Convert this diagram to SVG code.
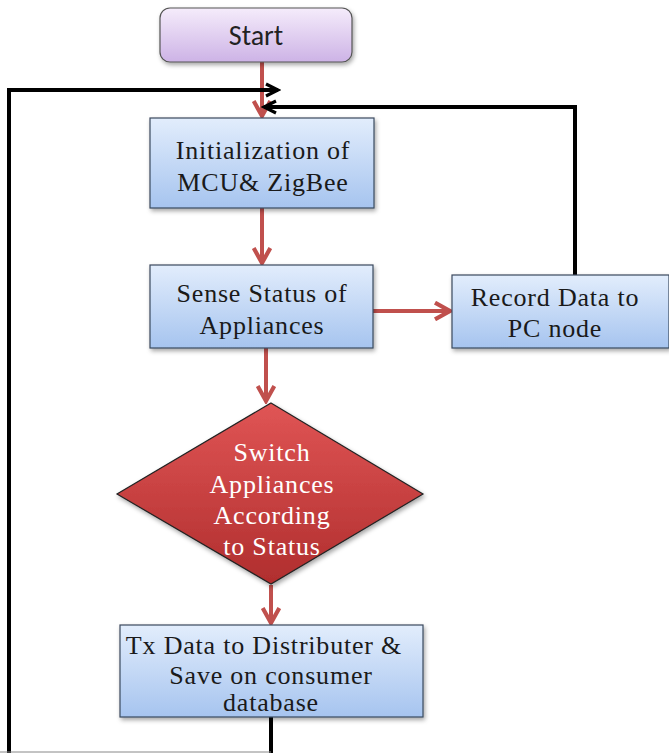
<svg xmlns="http://www.w3.org/2000/svg" width="669" height="753" viewBox="0 0 669 753">
<style>
.box{stroke:#3a4a5e;stroke-width:1.2;fill:url(#blue);filter:url(#sh)}
.t{font-family:"Liberation Serif","Times New Roman",serif;font-size:26px;letter-spacing:0.8px;fill:#1a1a1a;text-anchor:middle}
.tw{font-family:"Liberation Serif","Times New Roman",serif;font-size:26px;letter-spacing:0.8px;fill:#ffffff;text-anchor:middle}
.red{stroke:#c0504d;stroke-width:4;fill:none;marker-end:url(#ra)}
.blk{stroke:#000;stroke-width:4;fill:none}
</style>
<defs>
<linearGradient id="blue" x1="0" y1="0" x2="0" y2="1"><stop offset="0" stop-color="#e2edfc"/><stop offset="1" stop-color="#a6c4ef"/></linearGradient>
<linearGradient id="lav" x1="0" y1="0" x2="0" y2="1"><stop offset="0" stop-color="#f5ecfb"/><stop offset="1" stop-color="#cdb3e6"/></linearGradient>
<linearGradient id="redg" x1="0" y1="0" x2="0" y2="1"><stop offset="0" stop-color="#e05555"/><stop offset="1" stop-color="#b02e2e"/></linearGradient>
<filter id="sh" x="-10%" y="-10%" width="125%" height="130%"><feDropShadow dx="1.5" dy="2.5" stdDeviation="2" flood-color="#000" flood-opacity="0.35"/></filter>
<marker id="ra" viewBox="0 0 12 12" refX="10" refY="6" markerWidth="5" markerHeight="5" orient="auto" markerUnits="strokeWidth"><path d="M1,1 L10,6 L1,11" fill="none" stroke="#c0504d" stroke-width="2.5"/></marker>
<marker id="ba" viewBox="0 0 12 12" refX="10" refY="6" markerWidth="4" markerHeight="4" orient="auto" markerUnits="strokeWidth"><path d="M1,1.5 L10,6 L1,10.5" fill="none" stroke="#000" stroke-width="2.4"/></marker>
</defs>
<g id="connectors">
<line x1="262" y1="62" x2="262" y2="116" class="red"/>
<path d="M9,753 L9,90 L278,90" class="blk" marker-end="url(#ba)"/>
<path d="M575,275 L575,107 L264,107" class="blk" marker-end="url(#ba)"/>
<line x1="262" y1="208" x2="262" y2="263" class="red"/>
<line x1="373" y1="311" x2="450" y2="311" class="red"/>
<line x1="266" y1="348" x2="266" y2="401" class="red"/>
<line x1="271" y1="585" x2="271" y2="623" class="red"/>
<line x1="271" y1="717" x2="271" y2="753" class="blk"/>
<line x1="0" y1="752" x2="271" y2="752" stroke="#888" stroke-width="1"/>
</g>
<g id="start">
<rect x="160" y="8" width="192" height="54" rx="10" fill="url(#lav)" stroke="#555" stroke-width="1.2" filter="url(#sh)"/>
<text x="256" y="45" font-family="Carlito,'Open Sans','Liberation Sans',sans-serif" font-size="28" fill="#222" text-anchor="middle">Start</text>
</g>
<g id="init">
<rect x="150" y="118" width="224" height="90" class="box"/>
<text x="263" y="159" class="t">Initialization of</text>
<text x="263" y="191" class="t">MCU&amp; ZigBee</text>
</g>
<g id="sense">
<rect x="150" y="265" width="223" height="83" class="box"/>
<text x="262" y="302" class="t">Sense Status of</text>
<text x="262" y="334" class="t">Appliances</text>
</g>
<g id="record">
<rect x="452" y="275" width="217" height="73" class="box"/>
<text x="555" y="306" class="t">Record Data to</text>
<text x="555" y="337" class="t">PC node</text>
</g>
<g id="switch">
<polygon points="271,403 423,494 271,584 117,494" fill="url(#redg)" stroke="#222" stroke-width="1.2" filter="url(#sh)"/>
<text x="272" y="461" class="tw">Switch</text>
<text x="272" y="493" class="tw">Appliances</text>
<text x="272" y="524" class="tw">According</text>
<text x="272" y="555" class="tw">to Status</text>
</g>
<g id="tx">
<rect x="120" y="625" width="303" height="92" class="box"/>
<text x="264" y="654" class="t">Tx Data to Distributer &amp;</text>
<text x="271" y="684" class="t">Save on consumer</text>
<text x="271" y="711" class="t">database</text>
</g>
</svg>
